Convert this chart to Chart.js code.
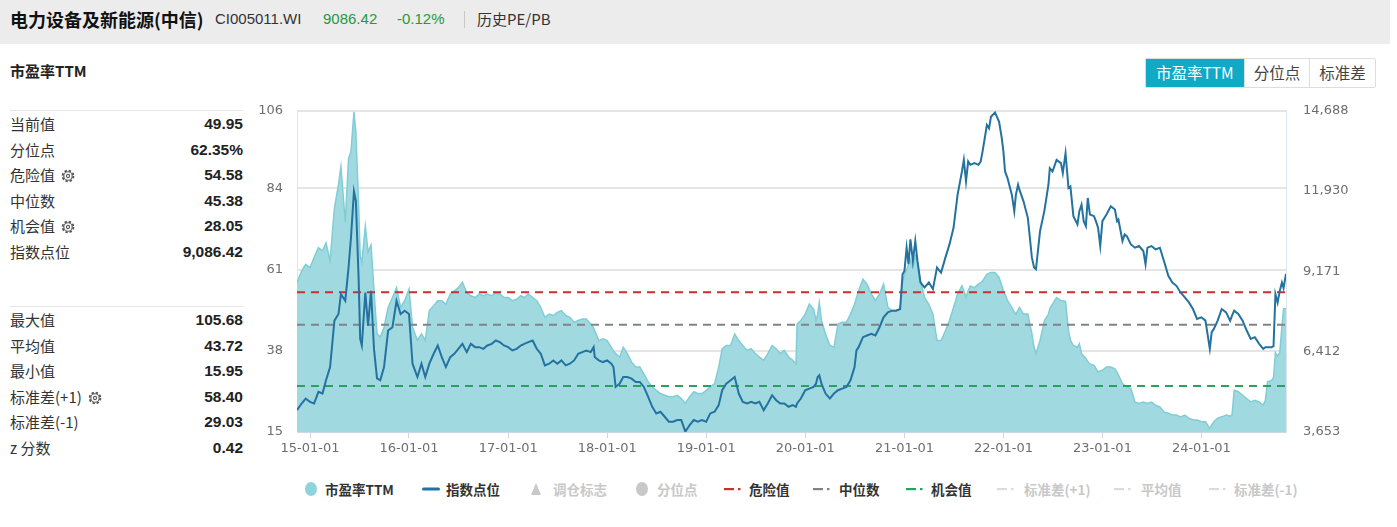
<!DOCTYPE html>
<html>
<head>
<meta charset="utf-8">
<script src="https://cdn.jsdelivr.net/npm/chart.js@4.4.1/dist/chart.umd.min.js"></script>
<style>
  body { margin: 0; width: 1397px; height: 527px; background: #fff; position: relative; overflow: hidden;
         font-family: "Noto Sans CJK SC", "Liberation Sans", sans-serif; color: #333; }
  #hdr { position: absolute; left: 0; top: 0; width: 1390px; height: 44px; background: #ececec; }
  #hdr span { position: absolute; top: 0; line-height: 38px; white-space: nowrap; }
  .name { left: 10px; font-size: 18px; font-weight: bold; color: #111; }
  .code { left: 215px; font-family: "Liberation Sans", sans-serif; font-size: 15px; }
  .green { color: #1f9a3c; font-family: "Liberation Sans", sans-serif; font-size: 15px; }
  .sep { position: absolute; left: 464px; top: 11px; width: 1px; height: 17px; background: #c8c8c8; }
  .title { position: absolute; left: 10px; top: 60px; font-size: 15px; font-weight: bold; color: #222; }
  .stats { position: absolute; left: 10px; width: 233px; border-top: 1px solid #e6e6e6; }
  .row { height: 25.6px; line-height: 25.6px; font-size: 15px; position: relative; }
  .row b { position: absolute; right: 0; top: 0; font-family: "Liberation Sans", sans-serif; font-size: 15.5px; color: #222; }
  .row svg { vertical-align: -2px; margin-left: 6px; }
  .btns { position: absolute; left: 1145px; top: 58px; height: 28px; display: flex; border: 1px solid #ddd; border-radius: 2px; }
  .btns div { padding: 0 9px; line-height: 27px; font-size: 15.5px; color: #444; border-left: 1px solid #ddd; }
  .btns div.on { background: #10a9c6; color: #fff; border-left: none; padding: 0 10px; }
  #wrap { position: absolute; left: 240px; top: 86px; width: 1130px; height: 374px; }
  .lg { position: absolute; top: 480px; height: 18px; line-height: 18px; font-size: 13.5px; font-weight: bold; white-space: nowrap; }
  .lg.off { color: #c8c8c8; }
  .lg svg { display: block; }
</style>
</head>
<body>
<div id="hdr">
  <span class="name">电力设备及新能源(中信)</span>
  <span class="code">CI005011.WI</span>
  <span class="green" style="left:323px">9086.42</span>
  <span class="green" style="left:397px">-0.12%</span>
  <div class="sep"></div>
  <span style="left:477px;font-size:15px">历史PE/PB</span>
</div>

<div class="title">市盈率TTM</div>
<div class="stats" id="stats1" style="top:110px"></div>
<div class="stats" id="stats2" style="top:306px"></div>

<div class="btns"><div class="on">市盈率TTM</div><div>分位点</div><div>标准差</div></div>

<div id="wrap"><canvas id="peChart" width="1130" height="374"></canvas></div>
<div id="legend"></div>

<script>
// ---- data ----
const dates = [
  '2014-11-14','2014-12-01','2014-12-16','2015-01-01','2015-01-16','2015-02-01','2015-02-16','2015-03-01','2015-03-16',
  '2015-04-01','2015-04-16','2015-04-25','2015-05-11','2015-05-23','2015-06-01','2015-06-12','2015-06-19','2015-06-29',
  '2015-07-05','2015-07-11','2015-07-24','2015-08-03','2015-08-14','2015-08-25','2015-09-05','2015-09-17','2015-10-01',
  '2015-10-16','2015-11-01','2015-11-16','2015-12-01','2015-12-16','2016-01-01','2016-01-14','2016-02-01','2016-02-16',
  '2016-03-01','2016-03-16','2016-04-01','2016-04-16','2016-05-01','2016-05-16','2016-06-01','2016-06-16','2016-07-01',
  '2016-07-16','2016-08-01','2016-08-16','2016-09-01','2016-09-16','2016-10-01','2016-10-16','2016-11-01','2016-11-16',
  '2016-12-01','2016-12-16','2017-01-01','2017-01-16','2017-02-01','2017-02-16','2017-03-01','2017-03-16','2017-04-01',
  '2017-04-16','2017-05-01','2017-05-16','2017-06-01','2017-06-16','2017-07-01','2017-07-16','2017-08-01','2017-08-16',
  '2017-09-01','2017-09-16','2017-10-01','2017-10-16','2017-11-01','2017-11-12','2017-11-16','2017-12-01','2017-12-16',
  '2018-01-01','2018-01-16','2018-01-24','2018-02-01','2018-02-16','2018-03-01','2018-03-16','2018-04-01','2018-04-16',
  '2018-05-01','2018-05-16','2018-06-01','2018-06-16','2018-07-01','2018-07-16','2018-08-01','2018-08-16','2018-09-01',
  '2018-09-16','2018-10-01','2018-10-16','2018-11-01','2018-11-16','2018-12-01','2018-12-16','2019-01-01','2019-01-16',
  '2019-02-01','2019-02-16','2019-03-01','2019-03-16','2019-04-01','2019-04-16','2019-05-01','2019-05-16','2019-06-01',
  '2019-06-16','2019-07-01','2019-07-16','2019-08-01','2019-08-16','2019-09-01','2019-09-16','2019-10-01','2019-10-16',
  '2019-11-01','2019-11-16','2019-11-28','2019-12-02','2019-12-16','2020-01-01','2020-01-16','2020-02-01','2020-02-10',
  '2020-02-16','2020-02-22','2020-03-01','2020-03-16','2020-04-01','2020-04-16','2020-05-01','2020-05-16','2020-06-01',
  '2020-06-16','2020-07-01','2020-07-08','2020-07-16','2020-08-01','2020-08-16','2020-09-01','2020-09-16','2020-10-01',
  '2020-10-16','2020-11-01','2020-11-16','2020-12-01','2020-12-16','2020-12-25','2021-01-01','2021-01-09','2021-01-16',
  '2021-01-23','2021-02-01','2021-02-10','2021-02-18','2021-03-01','2021-03-16','2021-04-01','2021-04-16','2021-05-01',
  '2021-05-16','2021-06-01','2021-06-16','2021-07-01','2021-07-16','2021-08-01','2021-08-08','2021-08-16','2021-08-24',
  '2021-09-01','2021-09-16','2021-10-01','2021-10-09','2021-10-16','2021-11-01','2021-11-09','2021-11-16','2021-12-01',
  '2021-12-16','2021-12-26','2022-01-01','2022-01-07','2022-01-16','2022-02-01','2022-02-10','2022-02-16','2022-02-24',
  '2022-03-01','2022-03-16','2022-04-01','2022-04-16','2022-04-24','2022-05-01','2022-05-16','2022-06-01','2022-06-16',
  '2022-06-21','2022-07-01','2022-07-16','2022-08-01','2022-08-08','2022-08-18','2022-08-29','2022-09-05','2022-09-16',
  '2022-10-01','2022-10-08','2022-10-16','2022-10-24','2022-11-01','2022-11-08','2022-11-16','2022-12-01','2022-12-08',
  '2022-12-16','2022-12-24','2023-01-01','2023-01-16','2023-02-01','2023-02-16','2023-02-24','2023-03-01','2023-03-16',
  '2023-03-24','2023-04-01','2023-04-16','2023-05-01','2023-05-16','2023-06-01','2023-06-09','2023-06-16','2023-07-01',
  '2023-07-16','2023-08-01','2023-08-16','2023-09-01','2023-09-16','2023-10-01','2023-10-16','2023-11-01','2023-11-16',
  '2023-12-01','2023-12-16','2024-01-01','2024-01-16','2024-02-01','2024-02-08','2024-02-16','2024-03-01','2024-03-16',
  '2024-04-01','2024-04-16','2024-04-23','2024-05-01','2024-05-16','2024-06-01','2024-06-16','2024-07-01','2024-07-16',
  '2024-08-01','2024-08-16','2024-08-24','2024-09-01','2024-09-16','2024-09-23','2024-09-30','2024-10-08','2024-10-16',
  '2024-10-24','2024-10-30','2024-11-08'
];

const peValues = [
  57.4,60.6,62.5,61.6,64.4,67.2,66.3,68.6,63.5,
  78.5,85.1,90.2,74.5,92.5,94.4,105.7,100,80,
  64.9,63,73.3,66,68,55,42.8,41.9,44.7,
  50.3,53.1,55.9,50.3,52.2,55.5,44.7,41,42.8,
  41,49.4,50.8,52.2,52.2,51.2,54.1,55,55.9,
  57.4,54.5,53.6,53.1,54.1,53.6,54.1,53.6,54.5,
  54.1,53.1,53.1,52.2,52.6,53.6,53.1,54.1,53.1,
  52.2,50.3,47.5,48.4,48,48.9,49.4,48,47.5,
  46.1,46.6,47,47,45.6,44.5,43.7,40.9,41.4,
  40.9,39,38,37.2,36.2,39,37.2,34.8,33.4,
  33.4,31.5,29.2,27.8,26.8,25.9,25.4,25,25,
  25.4,24.5,23.1,25,26.4,25.9,25.9,26.8,27.8,
  28.7,33.4,38.6,39.5,39.5,42.8,40.9,39.5,38.1,
  38.6,37.2,36.2,35.3,37.2,39.5,38.6,37.2,38.1,
  36.2,35.3,34.3,45.6,46.6,48.4,51.2,49.8,46.6,
  48.4,51.7,46.6,42.8,39.5,39,45.6,46.1,46.1,
  48.4,51.2,53,55,58.3,56.9,54.1,52.2,54.1,
  56.9,50.3,49.4,49.4,49.8,57,59.7,61,62.5,
  64,61.6,65,63,57.8,53.1,51.2,48.4,40.9,
  40.9,43.7,46.6,50.3,54.1,56.4,55,53.1,55,
  56.4,55.9,56.9,57.3,57.8,59.7,60,60.2,60.2,
  58.8,56.5,55,54,52.2,50.3,49,48.4,49.5,
  50.3,48.4,48.4,42.8,39,37.2,40.9,46.6,48.4,
  50,51.2,53.1,52.2,52.2,52,43.7,41,39.5,
  39,40,37.2,36.5,35.8,35,34.3,33.9,33,
  32,32.3,32.5,33.4,33.4,32.9,32,31.1,28.7,
  28.2,27.8,27.3,23.5,23.1,23.5,23.3,23.1,23.5,
  22.6,22.1,20.7,20.3,19.8,19.8,19.3,19.8,18.9,
  18.4,18.4,17.9,17.9,16,17,17.9,18.9,19.3,
  19.8,19.5,19.8,26.8,26.4,25.4,24.5,23.5,24,
  23.5,22.6,24,29.2,29.6,30.5,37.5,36.5,37.5,
  45,50,49.95
];

const indexValues = [
  4405,4632,4803,4689,4632,5031,4974,5430,5885,
  7480,7707,8390,8163,9300,10326,11921,11600,9000,
  6854,6625,8446,7308,8504,6500,5498,5430,5885,
  7138,7252,8163,7707,7821,7707,5999,5543,5999,
  5543,5999,6340,6625,6226,5885,6226,6340,6511,
  6682,6397,6682,6568,6568,6511,6625,6682,6796,
  6739,6625,6568,6454,6511,6625,6682,6739,6796,
  6511,6340,5942,5999,6112,5999,6112,5942,5999,
  6112,6340,6397,6454,6397,6568,6226,6112,6056,
  6112,5999,5885,5202,5316,5543,5543,5486,5372,
  5372,5202,4860,4519,4291,4348,4177,4006,4006,
  4063,4063,3664,3892,4063,4006,4063,4006,4291,
  4348,4576,5088,5316,5430,5543,4974,4689,4632,
  4689,4632,4689,4405,4632,4917,4746,4632,4632,
  4519,4576,4519,4632,4803,5088,5145,5202,5316,
  5543,5600,5316,4974,4803,4974,5088,5145,5202,
  5430,5885,6454,6568,6910,6967,7024,6967,7252,
  7593,7764,7821,7821,7878,9074,9188,9985,9416,
  10269,9529,10213,9529,8789,8618,8789,8561,9302,
  9131,9643,10098,10668,11807,12604,13003,12262,12946,
  12832,12889,12832,12946,13287,14198,14084,14483,14631,
  14312,13742,13287,12604,12376,11807,11238,11807,12148,
  11978,11579,11010,9643,9302,9245,10554,11250,12148,
  12717,12604,13003,12889,12547,13230,12035,12091,11067,
  10782,11238,11465,10896,10725,11693,11124,11067,10896,
  10668,10042,10896,11124,11408,11295,10896,10953,10213,
  10440,10383,10098,9985,10042,9871,9416,9985,10042,
  9928,9985,9529,9017,8789,8675,8447,8276,8106,
  7878,7536,7593,7479,6511,7081,7195,7479,7878,
  7764,7479,7650,7821,7707,7479,7138,6853,6910,
  6682,6511,6568,6568,6568,6600,8390,8100,8500,
  8790,8600,9086
];

const xTickLabels = ['15-01-01','16-01-01','17-01-01','18-01-01','19-01-01','20-01-01','21-01-01','22-01-01','23-01-01','24-01-01'];
const peTicks = [15, 38, 61, 84, 106];
const indexTicks = [3653, 6412, 9171, 11930, 14688];

const dangerValue = 54.58;
const medianValue = 45.38;
const chanceValue = 28.05;

const statsTop = [['当前值', '49.95'], ['分位点', '62.35%'], ['危险值', '54.58', true], ['中位数', '45.38'], ['机会值', '28.05', true], ['指数点位', '9,086.42']];
const statsBottom = [['最大值', '105.68'], ['平均值', '43.72'], ['最小值', '15.95'], ['标准差(+1)', '58.40', true], ['标准差(-1)', '29.03'], ['z 分数', '0.42']];

// ---- side panel ----
const gear = '<svg width="14" height="14" viewBox="0 0 14 14"><circle cx="7" cy="7" r="5.4" fill="none" stroke="#555" stroke-width="1.8" stroke-dasharray="2.4 1.85"/><circle cx="7" cy="7" r="4.2" fill="#fff" stroke="#555" stroke-width="1.1"/><circle cx="7" cy="7" r="1.6" fill="none" stroke="#555" stroke-width="1.1"/></svg>';
function fillStats(id, rows) {
  document.getElementById(id).innerHTML = rows.map(r =>
    `<div class="row">${r[0]}${r[2] ? gear : ''}<b>${r[1]}</b></div>`).join('');
}
fillStats('stats1', statsTop);
fillStats('stats2', statsBottom);

// ---- legend ----
const legendItems = [
  { icon: 'circle', color: '#8fd3dc', text: '市盈率TTM', iconX: 304, textX: 325 },
  { icon: 'line', color: '#2372a0', text: '指数点位', iconX: 422, textX: 446 },
  { icon: 'tri', color: '#c8c8c8', text: '调仓标志', iconX: 530, textX: 553, off: true },
  { icon: 'circle', color: '#c8c8c8', text: '分位点', iconX: 635, textX: 657, off: true },
  { icon: 'dash', color: '#c9302c', text: '危险值', iconX: 724, textX: 749 },
  { icon: 'dash', color: '#808388', text: '中位数', iconX: 813, textX: 839 },
  { icon: 'dash', color: '#27a35e', text: '机会值', iconX: 906, textX: 931 },
  { icon: 'dash', color: '#dcdcdc', text: '标准差(+1)', iconX: 997, textX: 1024, off: true },
  { icon: 'dash', color: '#dcdcdc', text: '平均值', iconX: 1114, textX: 1141, off: true },
  { icon: 'dash', color: '#dcdcdc', text: '标准差(-1)', iconX: 1209, textX: 1234, off: true }
];
function iconSvg(it) {
  if (it.icon === 'circle') return `<svg width="14" height="18"><ellipse cx="7" cy="9" rx="6" ry="7" fill="${it.color}"/></svg>`;
  if (it.icon === 'line') return `<svg width="18" height="18"><rect x="0" y="7.5" width="18" height="3" rx="1.5" fill="${it.color}"/></svg>`;
  if (it.icon === 'tri') return `<svg width="12" height="18"><polygon points="6,3 11,15 1,15" fill="${it.color}"/></svg>`;
  return `<svg width="20" height="18"><rect x="0" y="8" width="10" height="2.2" fill="${it.color}"/><rect x="14" y="8" width="2.5" height="2.2" fill="${it.color}"/></svg>`;
}
document.getElementById('legend').innerHTML = legendItems.map(it =>
  `<div class="lg" style="left:${it.iconX}px">${iconSvg(it)}</div>` +
  `<div class="lg${it.off ? ' off' : ''}" style="left:${it.textX}px">${it.text}</div>`).join('');

// ---- chart ----
const times = dates.map(d => Date.parse(d));
const tStart = times[0];
const tEnd = times[times.length - 1];

function refLine(value, color) {
  return {
    type: 'line',
    data: [{ x: tStart, y: value }, { x: tEnd, y: value }],
    yAxisID: 'yPe',
    borderColor: color,
    borderWidth: 2,
    borderDash: [8, 6],
    pointRadius: 0,
    fill: false,
    order: 1
  };
}

const ctx = document.getElementById('peChart').getContext('2d');
new Chart(ctx, {
  type: 'line',
  data: {
    datasets: [
      {
        label: '指数点位',
        data: times.map((t, i) => ({ x: t, y: indexValues[i] })),
        yAxisID: 'yIdx',
        borderColor: '#2372a0',
        borderWidth: 2,
        pointRadius: 0,
        tension: 0,
        fill: false,
        order: 0
      },
      refLine(dangerValue, '#c9302c'),
      refLine(medianValue, '#808388'),
      refLine(chanceValue, '#27a35e'),
      {
        label: '市盈率TTM',
        data: times.map((t, i) => ({ x: t, y: peValues[i] })),
        yAxisID: 'yPe',
        borderColor: '#80cdd6',
        borderWidth: 1.5,
        backgroundColor: '#a1d9e0',
        pointRadius: 0,
        tension: 0,
        fill: 'start',
        order: 3
      }
    ]
  },
  options: {
    responsive: false,
    animation: false,
    layout: { padding: { top: 9, right: 0, bottom: 0, left: 0 } },
    plugins: { legend: { display: false }, tooltip: { enabled: false } },
    scales: {
      x: {
        type: 'linear',
        min: tStart,
        max: tEnd,
        afterBuildTicks: axis => { axis.ticks = xTickLabels.map(l => ({ value: Date.parse('20' + l) })); },
        afterFit: axis => { axis.height = 28; },
        ticks: {
          autoSkip: false,
          maxRotation: 0,
          padding: 3,
          color: '#6e6e6e',
          font: { family: 'DejaVu Sans', size: 13 },
          callback: (v, i) => xTickLabels[i]
        },
        grid: { drawOnChartArea: false, tickLength: 6, color: '#ccd6eb' },
        border: { color: '#ccd6eb' }
      },
      yPe: {
        position: 'left',
        min: 15,
        max: 106,
        z: 1,
        afterBuildTicks: axis => { axis.ticks = peTicks.map(v => ({ value: v })); },
        afterFit: axis => { axis.width = 57; },
        ticks: {
          padding: 14,
          color: '#6e6e6e',
          font: { family: 'DejaVu Sans', size: 13 }
        },
        grid: { color: 'rgba(222,222,222,0.8)', lineWidth: 2, drawTicks: false },
        border: { color: '#dde4ee' }
      },
      yIdx: {
        position: 'right',
        min: 3653,
        max: 14688,
        afterBuildTicks: axis => { axis.ticks = indexTicks.map(v => ({ value: v })); },
        afterFit: axis => { axis.width = 84; },
        ticks: {
          padding: 17,
          color: '#6e6e6e',
          font: { family: 'DejaVu Sans', size: 13 },
          callback: v => v.toLocaleString('en-US')
        },
        grid: { drawOnChartArea: false, drawTicks: false },
        border: { color: '#dde4ee' }
      }
    }
  }
});
</script>
</body>
</html>
